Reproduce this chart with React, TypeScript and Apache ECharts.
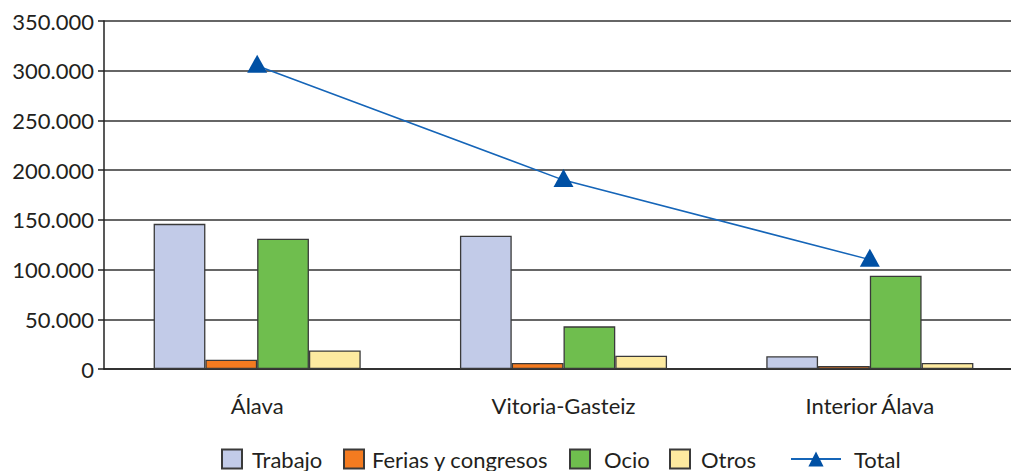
import React, { useEffect, useRef } from "react";
import * as echarts from "echarts";

const categories = ["Álava", "Vitoria-Gasteiz", "Interior Álava"];
const trabajo = [146000, 134000, 12800];
const ferias = [9300, 6000, 3000];
const ocio = [131000, 42900, 93900];
const otros = [18700, 13400, 6000];
const total = [305000, 190000, 110000];
const yTicks = [0, 50000, 100000, 150000, 200000, 250000, 300000, 350000];
const legendNames = ["Trabajo", "Ferias y congresos", "Ocio", "Otros", "Total"];

const FONT = "Lato, 'Open Sans', sans-serif";
const TXT = "#231f20";
const BORDER = "#3a3a3a";

function fmt(v: number): string {
  return String(v).replace(/\B(?=(\d{3})+(?!\d))/g, ".");
}

export default function App() {
  const ref = useRef<HTMLDivElement>(null);
  useEffect(() => {
    if (!ref.current) return;
    const chart = echarts.init(ref.current, null, { renderer: "svg" });
    const bar = (name: string, data: number[], color: string) => ({
      name,
      type: "bar",
      data,
      barGap: "0%",
      barCategoryGap: "32.4%",
      itemStyle: { color, borderColor: BORDER, borderWidth: 1.3 },
    });
    const legendLefts = [221, 343, 569, 669, 790];
    const legendPads = [5, 3, 9, 6, 8];
    const legends = legendNames.map((n, i) => ({
      data: [n],
      left: legendLefts[i],
      top: 448,
      padding: 0,
      itemWidth: n === "Total" ? 50 : 20,
      itemHeight: 19,
      icon: n === "Total" ? undefined : "rect",
      textStyle: {
        fontFamily: FONT,
        fontSize: 22,
        lineHeight: 22,
        color: TXT,
        padding: [0, 0, 0, legendPads[i]],
      },
    }));
    chart.setOption({
      animation: false,
      textStyle: { fontFamily: FONT, color: TXT },
      grid: { left: 104, right: 0, top: 21, bottom: 102, containLabel: false },
      legend: legends,
      xAxis: {
        type: "category",
        data: categories,
        axisLine: { lineStyle: { color: "#222", width: 1.5 } },
        axisTick: { show: false },
        axisLabel: { fontFamily: FONT, fontSize: 22, color: TXT, margin: 25 },
      },
      yAxis: {
        type: "value",
        min: 0,
        max: yTicks[yTicks.length - 1],
        interval: yTicks[1] - yTicks[0],
        axisLine: { show: true, lineStyle: { color: "#222", width: 1.5 } },
        axisTick: { show: true, length: 6, lineStyle: { color: "#222", width: 1.5 } },
        splitLine: { lineStyle: { color: "#333", width: 1.5 } },
        axisLabel: {
          fontFamily: FONT,
          fontSize: 22,
          color: TXT,
          margin: 10,
          formatter: (v: number) => fmt(v),
        },
      },
      series: [
        bar("Trabajo", trabajo, "#c2cbe8"),
        bar("Ferias y congresos", ferias, "#f47b20"),
        bar("Ocio", ocio, "#6fbe4e"),
        bar("Otros", otros, "#fdeaa0"),
        {
          name: "Total",
          type: "line",
          data: total,
          symbol: "triangle",
          symbolSize: [20, 18],
          symbolOffset: [0, -2],
          lineStyle: { color: "#1565b8", width: 1.5 },
          itemStyle: { color: "#0050a4" },
          z: 5,
        },
      ],
    });
    return () => chart.dispose();
  }, []);
  return (
    <div style={{ width: 1011, height: 471, position: "absolute", left: 0, top: 0, overflow: "hidden" }}>
      <div ref={ref} style={{ width: 1023, height: 471 }} />
    </div>
  );
}
